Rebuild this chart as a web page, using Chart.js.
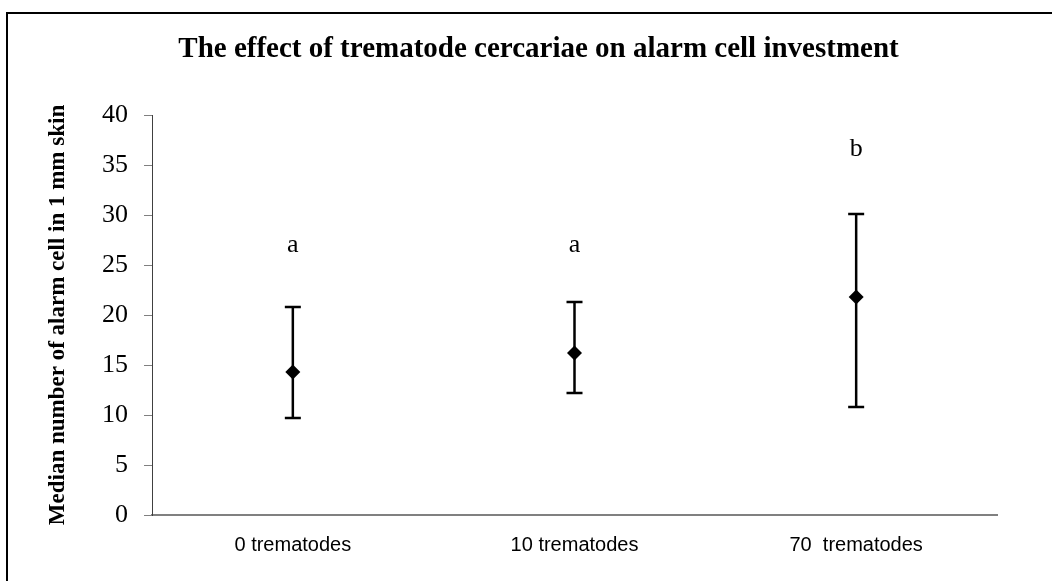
<!DOCTYPE html>
<html>
<head>
<meta charset="utf-8">
<script src="https://cdn.jsdelivr.net/npm/chart.js@4/dist/chart.umd.min.js"></script>
<style>
  html, body { margin: 0; padding: 0; background: #fff; overflow: hidden; }
  #wrap { width: 1052px; height: 581px; position: relative; }
</style>
</head>
<body>
<div id="wrap"><canvas id="alarmChart" width="1052" height="581"></canvas></div>
<script>
// values
const groups = ['0 trematodes', '10 trematodes', '70  trematodes'];
const medians = [14.3, 16.2, 21.8];
const lowerBars = [9.7, 12.2, 10.8];
const upperBars = [20.8, 21.3, 30.1];
const groupLetters = ['a', 'a', 'b'];
const letterLevels = [26.3, 26.3, 35.9];

// error bars behind the diamonds
const errorBars = {
  id: 'errorBars',
  beforeDatasetsDraw(chart) {
    const ctx = chart.ctx;
    const x = chart.scales.x, y = chart.scales.y;
    ctx.save();
    ctx.strokeStyle = '#000';
    ctx.lineWidth = 2.5;
    groups.forEach((g, i) => {
      const px = x.getPixelForValue(i);
      const top = y.getPixelForValue(upperBars[i]);
      const bot = y.getPixelForValue(lowerBars[i]);
      ctx.beginPath();
      ctx.moveTo(px, top); ctx.lineTo(px, bot);
      ctx.moveTo(px - 8, top); ctx.lineTo(px + 8, top);
      ctx.moveTo(px - 8, bot); ctx.lineTo(px + 8, bot);
      ctx.stroke();
    });
    ctx.restore();
  }
};

// significance letters above each group
const letters = {
  id: 'letters',
  afterDatasetsDraw(chart) {
    const ctx = chart.ctx;
    const x = chart.scales.x, y = chart.scales.y;
    ctx.save();
    ctx.fillStyle = '#000';
    ctx.font = '26px "Liberation Serif", "Times New Roman", serif';
    ctx.textAlign = 'center';
    ctx.textBaseline = 'alphabetic';
    groupLetters.forEach((t, i) => {
      ctx.fillText(t, x.getPixelForValue(i), y.getPixelForValue(letterLevels[i]));
    });
    ctx.restore();
  }
};

// frame round the picture (left and top edge visible)
const frame = {
  id: 'frame',
  beforeDraw(chart) {
    const ctx = chart.ctx;
    ctx.save();
    ctx.strokeStyle = '#000';
    ctx.lineWidth = 2;
    ctx.beginPath();
    ctx.moveTo(7, 581); ctx.lineTo(7, 13); ctx.lineTo(1052, 13);
    ctx.stroke();
    ctx.restore();
  }
};

let ctx = document.getElementById('alarmChart').getContext('2d');
let alarmChart = new Chart(ctx, {
  type: 'line',
  data: {
    labels: groups,
    datasets: [{
      label: 'Median',
      data: medians,
      showLine: false,
      pointStyle: 'rectRot',
      pointRadius: 7.5,
      pointBackgroundColor: '#000',
      pointBorderColor: '#000',
      pointBorderWidth: 0
    }]
  },
  options: {
    responsive: false,
    animation: false,
    layout: { padding: { left: 80, right: 55, top: 0, bottom: 0 } },
    plugins: {
      legend: { display: false },
      tooltip: { enabled: false },
      title: {
        display: true,
        text: 'The effect of trematode cercariae on alarm cell investment',
        color: '#000',
        font: { family: '"Liberation Serif", "Times New Roman", serif', size: 29, weight: 'bold', lineHeight: 1.2 },
        padding: { top: 32.6, bottom: 47.6 }
      }
    },
    scales: {
      x: {
        offset: true,
        grid: { display: false, drawTicks: false },
        border: { display: true, color: '#808080', width: 2 },
        ticks: {
          color: '#000',
          padding: 18,
          font: { family: '"Liberation Sans", Arial, sans-serif', size: 20 }
        },
        afterFit(scale) { scale.height = 66; }
      },
      y: {
        min: 0,
        max: 40,
        ticks: {
          stepSize: 5,
          color: '#000',
          padding: 16,
          font: { family: '"Liberation Serif", "Times New Roman", serif', size: 26 }
        },
        grid: { drawOnChartArea: false, tickLength: 8, color: '#808080' },
        border: { display: true, color: '#404040', width: 1 },
        title: {
          display: true,
          text: 'Median number of alarm cell in 1 mm skin',
          color: '#000',
          font: { family: '"Liberation Serif", "Times New Roman", serif', size: 23, weight: 'bold', lineHeight: 1.2 },
          padding: { top: -35.8, bottom: 0 }
        },
        afterFit(scale) { scale.width = 72; }
      }
    }
  },
  plugins: [frame, errorBars, letters]
});
</script>
</body>
</html>
